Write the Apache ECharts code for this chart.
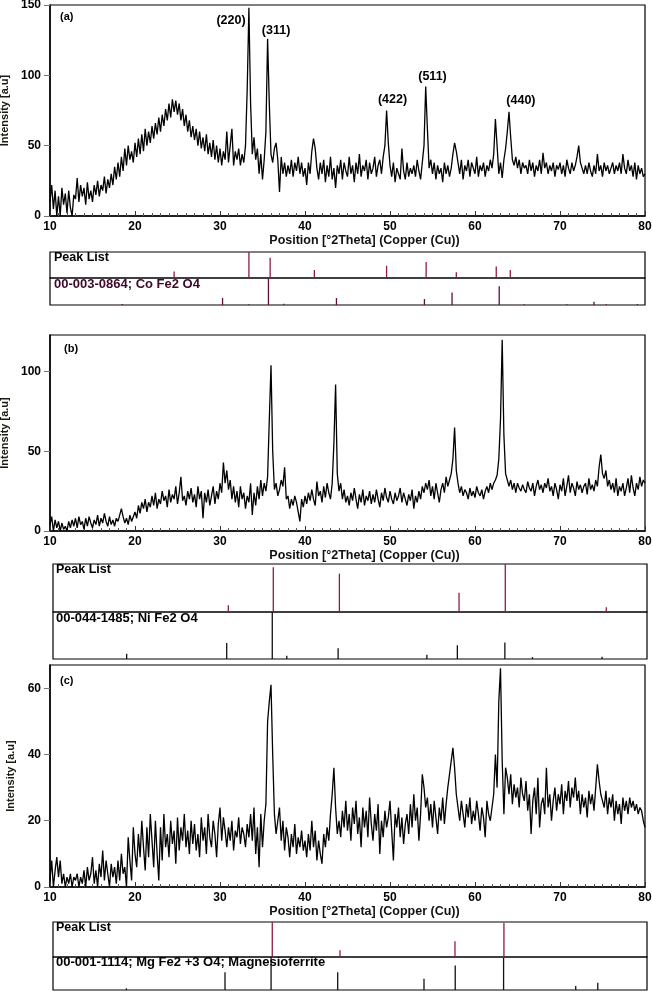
<!DOCTYPE html>
<html>
<head>
<meta charset="utf-8">
<script src="https://cdn.jsdelivr.net/npm/echarts@6/dist/echarts.min.js"></script>
<style>
  html, body { margin: 0; padding: 0; background: #fff; }
  #chart { width: 652px; height: 992px; }
</style>
</head>
<body>
<div id="chart"></div>
<script>
// scan grid: 10 -> 80 deg 2theta, step 0.2
const scanStart = 10
const scanStep = 0.2

// (a) Co Fe2 O4, one row per degree
const intensityA = [
  10, 22, 5, 18, 0,   14, 0, 20, 8, 16,   2, 18, 6, 0, 15,   12, 27, 10, 22, 14,
  20, 8, 24, 12, 18,  10, 22, 15, 25, 14, 22, 18, 28, 16, 26, 20, 30, 22, 35, 26,
  38, 28, 42, 32, 48, 36, 50, 40, 46, 38, 52, 42, 55, 44, 58, 46, 62, 50, 60, 52,
  64, 55, 66, 58, 70, 60, 72, 64, 76, 68, 80, 70, 83, 74, 82, 72, 80, 68, 76, 64,
  72, 60, 68, 56, 64, 54, 62, 50, 60, 48, 56, 46, 58, 44, 52, 42, 54, 40, 50, 38,
  48, 36, 46, 40, 60, 38, 50, 62, 36, 46, 40, 48, 36, 44, 38, 50, 90, 148, 80, 44,
  56, 40, 48, 30, 44, 26, 40, 60, 126, 80, 44, 38, 48, 52, 40, 17, 42, 30, 38, 28,
  36, 30, 40, 28, 38, 32, 42, 30, 38, 28, 34, 22, 38, 30, 46, 55, 48, 34, 26, 38,
  30, 40, 24, 36, 28, 42, 26, 34, 20, 36, 30, 40, 26, 38, 32, 28, 42, 30, 36, 24,
  38, 30, 44, 28, 36, 32, 40, 26, 38, 30, 34, 42, 28, 36, 40, 30, 42, 50, 75, 52,
  36, 28, 38, 24, 34, 30, 26, 48, 32, 26, 38, 28, 34, 30, 36, 28, 40, 32, 26, 38,
  50, 92, 62, 34, 40, 30, 38, 26, 36, 30, 34, 24, 38, 30, 36, 28, 34, 44, 52, 46,
  38, 30, 40, 26, 36, 32, 40, 28, 38, 34, 30, 42, 28, 36, 32, 38, 28, 36, 32, 40,
  34, 44, 69, 50, 30, 38, 27, 40, 48, 60, 74, 56, 40, 36, 42, 34, 40, 30, 38, 34,
  36, 30, 40, 32, 38, 28, 36, 32, 40, 30, 45, 34, 38, 30, 36, 32, 38, 28, 36, 33,
  38, 30, 36, 28, 40, 34, 30, 38, 32, 36, 42, 50, 38, 34, 30, 36, 30, 38, 32, 28,
  36, 30, 44, 32, 36, 28, 38, 32, 36, 30, 34, 38, 30, 36, 32, 38, 30, 44, 34, 30,
  40, 32, 36, 28, 38, 26, 36, 30, 34, 28, 30
]

// (b) Ni Fe2 O4
const intensityB = [
  4, 9, 0, 7, 2,      6, 0, 5, 1, 3,      0, 6, 2, 7, 3,      8, 2, 9, 4, 6,
  1, 8, 3, 9, 5,      2, 7, 4, 10, 3,     8, 5, 11, 6, 3,     9, 4, 7, 3, 8,
  6, 10, 14, 9, 5,    8, 4, 10, 6, 9,     12, 8, 16, 11, 18,  14, 20, 12, 18, 15,
  22, 16, 24, 14, 20, 17, 25, 19, 22, 15, 26, 18, 23, 20, 28, 17, 24, 34, 19, 22,
  16, 25, 20, 27, 18, 23, 15, 28, 20, 25, 8, 24, 18, 26, 16,  22, 28, 17, 25, 20,
  30, 24, 43, 30, 38, 26, 32, 20, 28, 18, 25, 15, 28, 20, 24, 14, 22, 18, 30, 10,
  24, 16, 28, 20, 32, 22, 30, 25, 34, 70, 104, 50, 26, 30, 22, 26, 32, 28, 40, 20,
  22, 14, 20, 16, 22, 18, 12, 6, 20, 15,  22, 17, 24, 19, 26, 20, 16, 31, 22, 25,
  18, 28, 21, 30, 24, 20, 30, 55, 92, 36, 25, 30, 20, 26, 18, 22, 16, 24, 19, 27,
  20, 14, 23, 18, 26, 16, 22, 19, 25, 17, 23, 18, 26, 20, 15, 24, 19, 27, 21, 18,
  25, 20, 17, 24, 19, 22, 27, 18, 24, 20, 16, 23, 19, 26, 14, 22, 18, 25, 20, 28,
  24, 30, 26, 32, 22, 28, 20, 30, 24, 18, 26, 30, 24, 34, 28, 32, 36, 45, 65, 38,
  30, 24, 28, 22, 26, 24, 20, 27, 22, 25, 21, 28, 24, 22, 26, 20, 25, 28, 24, 30,
  26, 30, 32, 35, 45, 70, 120, 60, 36, 32, 28, 32, 26, 30, 24, 30, 27, 25, 29, 26,
  24, 31, 27, 25, 30, 22, 28, 32, 26, 29, 24, 30, 27, 33, 25, 28, 22, 30, 26, 20,
  29, 25, 33, 22, 28, 35, 24, 30, 27, 22, 31, 26, 29, 24, 28, 30, 23, 33, 26, 29,
  25, 32, 28, 40, 48, 36, 33, 38, 28, 32, 26, 30, 24, 33, 22, 28, 25, 30, 22, 27,
  33, 24, 35, 27, 22, 30, 26, 34, 28, 32, 30
]

// (c) Mg Fe2 O4
const intensityC = [
  2, 8, 0, 5, 9,      3, 8, 1, 4, 0,      3, 1, 4, 0, 3,      2, 4, 0, 3, 1,
  5, 0, 6, 2, 4,      9, 1, 5, 0, 7,      3, 11, 2, 8, 4,     0, 7, 3, 6, 1,
  8, 2, 10, 4, 6,     0, 15, 8, 2, 18,    10, 6, 16, 9, 20,   12, 5, 18, 9, 22,
  14, 6, 20, 10, 2,   18, 8, 22, 12, 16,  9, 20, 13, 17, 7,   21, 11, 18, 14, 22,
  12, 17, 10, 20, 13, 19, 11, 16, 9, 21,  14, 18, 10, 22, 15, 12, 20, 16, 9, 19,
  24, 14, 21, 17, 12, 18, 14, 20, 11, 17, 15, 21, 13, 18, 16, 12, 19, 15, 22, 14,
  24, 10, 18, 6, 22,  12, 20, 25, 50, 56, 61, 40, 22, 16, 20, 24, 14, 20, 11, 18,
  15, 9, 16, 12, 19,  10, 15, 12, 17, 11, 14, 9, 16, 11, 20,  12, 17, 8, 14, 10,
  7, 16, 12, 18, 14,  22, 28, 36, 24, 16, 20, 15, 23, 18, 26, 17, 22, 14, 24, 19,
  26, 16, 21, 12, 24, 18, 23, 15, 27, 19, 14, 22, 17, 25, 10, 20, 15, 23, 18, 21,
  26, 17, 8, 22, 18,  24, 15, 21, 13, 19, 22, 16, 25, 18, 28, 20, 24, 14, 22, 34,
  30, 24, 27, 20, 25, 18, 26, 21, 16, 24, 20, 27, 19, 25, 30, 34, 38, 42, 36, 28,
  24, 20, 26, 22, 18, 25, 21, 27, 19, 23, 20, 26, 22, 17, 24, 21, 15, 26, 22, 20,
  24, 28, 40, 30, 56, 66, 38, 22, 36, 33, 28, 34, 25, 31, 27, 30, 24, 33, 28, 26,
  32, 23, 28, 16, 26, 30, 22, 33, 18, 25, 27, 22, 36, 24, 28, 20, 26, 30, 23, 28,
  25, 31, 22, 29, 26, 32, 24, 30, 27, 33, 26, 29, 22, 28, 24, 27, 21, 29, 25, 28,
  23, 30, 37, 32, 28, 26, 24, 29, 22, 27, 24, 28, 20, 26, 22, 25, 19, 27, 23, 26,
  22, 27, 24, 26, 23, 25, 22, 24, 23, 20, 18
]

// stick patterns: [2theta, relative height %]
const peakListA = [[24.6, 25], [33.4, 100], [35.9, 78], [41.1, 31], [49.6, 47], [54.25, 62], [57.8, 22], [62.5, 44], [64.15, 31]]
const refA = [[18.5, 4], [30.3, 26], [33.4, 3], [35.7, 100], [37.5, 5], [43.7, 26], [54.05, 22], [57.3, 46], [62.85, 69], [65.8, 3], [70.8, 3], [74.0, 12], [75.45, 3], [79.1, 4]]
const peakListB = [[30.66, 14], [35.96, 93], [43.75, 80], [57.85, 40], [63.3, 100], [75.2, 10]]
const refB = [[18.68, 11], [30.47, 34], [35.84, 100], [37.55, 7], [43.6, 23], [54.06, 9], [57.65, 29], [63.25, 35], [66.5, 4], [74.7, 5]]
const peakListC = [[35.84, 100], [43.82, 19], [57.37, 45], [63.14, 97]]
const refC = [[18.65, 5], [30.27, 54], [35.7, 100], [43.55, 54], [53.72, 34], [57.4, 74], [63.1, 97], [71.6, 12], [74.2, 22]]

const hklA = [['(220)', 31.3, 139], ['(311)', 36.6, 132], ['(422)', 50.3, 83], ['(511)', 55.0, 99], ['(440)', 65.4, 82]]

const xTicks = { min: 10, max: 80, interval: 10 }
const FONT = '"Liberation Sans", Arial, sans-serif'

const toPairs = arr => arr.map((v, i) => [+(scanStart + scanStep * i).toFixed(1), v])

const chart = echarts.init(document.getElementById('chart'))

const xrdX = (gi) => ({
  gridIndex: gi, type: 'value', min: xTicks.min, max: xTicks.max, interval: xTicks.interval,
  name: 'Position [°2Theta] (Copper (Cu))', nameLocation: 'middle', nameGap: 16,
  nameTextStyle: { color: '#111', fontSize: 12.5, fontWeight: 'bold', fontFamily: FONT, padding: [0, 0, 0, 34] },
  axisLine: { show: true, lineStyle: { color: '#000', width: 1.5 } },
  axisTick: { show: true, inside: true, length: 5, lineStyle: { color: '#333' } },
  minorTick: { show: true, splitNumber: 10, length: 3, lineStyle: { color: '#555' } },
  axisLabel: { color: '#000', fontSize: 12, fontWeight: 'bold', fontFamily: FONT, margin: 5 },
  splitLine: { show: false }
})
const xrdY = (gi, max, interval) => ({
  gridIndex: gi, type: 'value', min: 0, max: max, interval: interval,
  name: 'Intensity [a.u]', nameLocation: 'middle', nameGap: 31,
  nameTextStyle: { color: '#1a1a10', fontSize: 11, fontWeight: 'bold', fontFamily: FONT },
  axisLine: { show: true, lineStyle: { color: '#000', width: 1.5 } },
  axisTick: { show: true, length: 6, lineStyle: { color: '#777' } },
  axisLabel: { color: '#000', fontSize: 12, fontWeight: 'bold', fontFamily: FONT, margin: 9, showMaxLabel: max % interval === 0 },
  splitLine: { show: false }
})
const hiddenX = gi => ({ gridIndex: gi, type: 'value', min: 10, max: 80, show: false })
const hiddenY = gi => ({ gridIndex: gi, type: 'value', min: 0, max: 100, show: false })

const sticks = (gi, data, color) => ({
  type: 'custom', xAxisIndex: gi, yAxisIndex: gi, data: data, silent: true,
  renderItem: (params, api) => {
    const p0 = api.coord([api.value(0), 0])
    const p1 = api.coord([api.value(0), api.value(1)])
    return { type: 'line', shape: { x1: p0[0], y1: p0[1], x2: p1[0], y2: p1[1] }, style: { stroke: color, lineWidth: 1.3 } }
  }
})
const trace = (gi, arr, extra) => Object.assign({
  type: 'line', xAxisIndex: gi, yAxisIndex: gi, data: toPairs(arr),
  showSymbol: false, symbol: 'none', sampling: 'none', silent: true,
  lineStyle: { color: '#000', width: 1.3 }
}, extra || {})

const box = { show: true, borderColor: '#000', borderWidth: 1.2, backgroundColor: 'transparent', outerBoundsMode: 'none', containLabel: false }
const txt = (text, left, top, color, size) => ({
  text, left, top, padding: 0,
  textStyle: { color: color || '#000', fontSize: size || 11, fontWeight: 'bold', fontFamily: FONT }
})

const PEAK = '#8e1d45'

chart.setOption({
  animation: false,
  backgroundColor: '#fff',
  title: [
    txt('(a)', 60, 11),
    txt('(b)', 64, 343),
    txt('(c)', 60, 675),
    txt('Peak List', 54, 251, null, 12.5),
    txt('00-003-0864; Co Fe2 O4', 54, 278, '#3d0a2a', 13),
    txt('Peak List', 56, 563, null, 12.5),
    txt('00-044-1485; Ni Fe2 O4', 56, 612, null, 13),
    txt('Peak List', 56, 921, null, 12.5),
    txt('00-001-1114; Mg Fe2 +3 O4; Magnesioferrite', 56, 956, null, 13)
  ],
  grid: [
    Object.assign({ left: 50, right: 7, top: 5, height: 211 }, box),
    Object.assign({ left: 50, right: 7, top: 252, height: 26 }, box),
    Object.assign({ left: 50, right: 7, top: 278, height: 27 }, box),
    Object.assign({ left: 50, right: 7, top: 335, height: 196 }, box),
    Object.assign({ left: 53, right: 5, top: 564, height: 48 }, box),
    Object.assign({ left: 53, right: 5, top: 612, height: 47 }, box),
    Object.assign({ left: 50, right: 7, top: 665, height: 222 }, box),
    Object.assign({ left: 53, right: 5, top: 922, height: 35 }, box),
    Object.assign({ left: 53, right: 5, top: 957, height: 33 }, box)
  ],
  xAxis: [xrdX(0), hiddenX(1), hiddenX(2), xrdX(3), hiddenX(4), hiddenX(5), xrdX(6), hiddenX(7), hiddenX(8)],
  yAxis: [xrdY(0, 150, 50), hiddenY(1), hiddenY(2), xrdY(3, 123, 50), hiddenY(4), hiddenY(5), xrdY(6, 67, 20), hiddenY(7), hiddenY(8)],
  series: [
    trace(0, intensityA, {
      markPoint: {
        symbol: 'circle', symbolSize: 0, silent: true,
        label: { show: true, position: 'inside', color: '#000', fontSize: 12.5, fontWeight: 'bold', fontFamily: FONT, formatter: p => p.name },
        data: hklA.map(h => ({ name: h[0], coord: [h[1], h[2]] }))
      }
    }),
    sticks(1, peakListA, PEAK),
    sticks(2, refA, '#5a1038'),
    trace(3, intensityB),
    sticks(4, peakListB, PEAK),
    sticks(5, refB, '#111'),
    trace(6, intensityC),
    sticks(7, peakListC, PEAK),
    sticks(8, refC, '#111')
  ]
})
</script>
</body>
</html>
